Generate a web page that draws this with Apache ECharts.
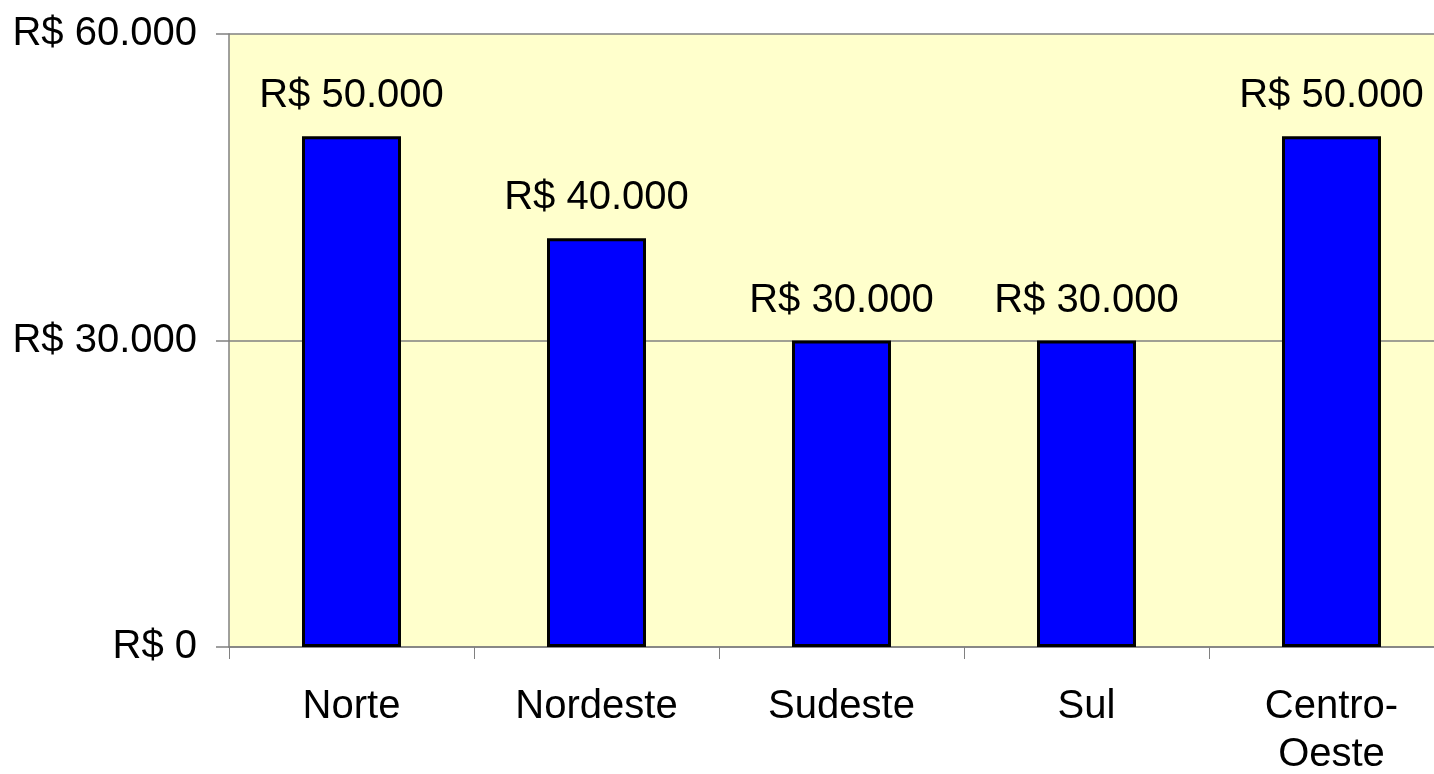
<!DOCTYPE html>
<html>
<head>
<meta charset="utf-8">
<script src="https://cdn.jsdelivr.net/npm/echarts@6/dist/echarts.min.js"></script>
<style>
  html, body { margin: 0; padding: 0; background: #fff; }
  #chart { width: 1434px; height: 774px; }
</style>
</head>
<body>
<div id="chart"></div>
<script>
  // regiões e valores (R$)
  var regioes = ['Norte', 'Nordeste', 'Sudeste', 'Sul', 'Centro-\nOeste'];
  var valores = [50000, 40000, 30000, 30000, 50000];
  var yTicks = [0, 30000, 60000];

  function moeda(v) {
    var s = String(Math.round(v)).replace(/\B(?=(\d{3})+(?!\d))/g, '.');
    return 'R$ ' + s;
  }

  var chart = echarts.init(document.getElementById('chart'));
  var fonte = '"Liberation Sans", Arial, sans-serif';

  chart.setOption({
    animation: false,
    backgroundColor: '#ffffff',
    grid: {
      left: 229,
      top: 34,
      width: 1225,
      height: 613,
      outerBoundsMode: 'none',
      containLabel: false,
      show: true,
      backgroundColor: '#ffffcc',
      borderWidth: 0
    },
    xAxis: {
      type: 'category',
      data: regioes,
      boundaryGap: true,
      axisLine: { lineStyle: { color: '#808080', width: 1.5 } },
      axisTick: { show: true, length: 12, alignWithLabel: false, lineStyle: { color: '#808080', width: 1 } },
      axisLabel: {
        color: '#000',
        fontSize: 40,
        fontFamily: fonte,
        lineHeight: 48,
        margin: 36,
        interval: 0
      },
      splitLine: { show: false }
    },
    yAxis: {
      type: 'value',
      min: yTicks[0],
      max: yTicks[2],
      interval: 30000,
      axisLine: { show: true, lineStyle: { color: '#808080', width: 1.5 } },
      axisTick: { show: true, length: 13, lineStyle: { color: '#808080', width: 1.5 } },
      axisLabel: {
        color: '#000',
        fontSize: 40,
        fontFamily: fonte,
        margin: 32,
        padding: [8, 0, 0, 0],
        formatter: moeda
      },
      splitLine: { show: true, lineStyle: { color: '#808080', width: 1.5 } }
    },
    series: [{
      type: 'bar',
      data: valores,
      barWidth: 99,
      itemStyle: {
        color: '#0000ff',
        borderColor: '#000',
        borderWidth: 3
      },
      label: {
        show: true,
        position: 'top',
        distance: 20,
        color: '#000',
        fontSize: 40,
        fontFamily: fonte,
        formatter: function (p) { return moeda(p.value); }
      }
    }]
  });
</script>
</body>
</html>
